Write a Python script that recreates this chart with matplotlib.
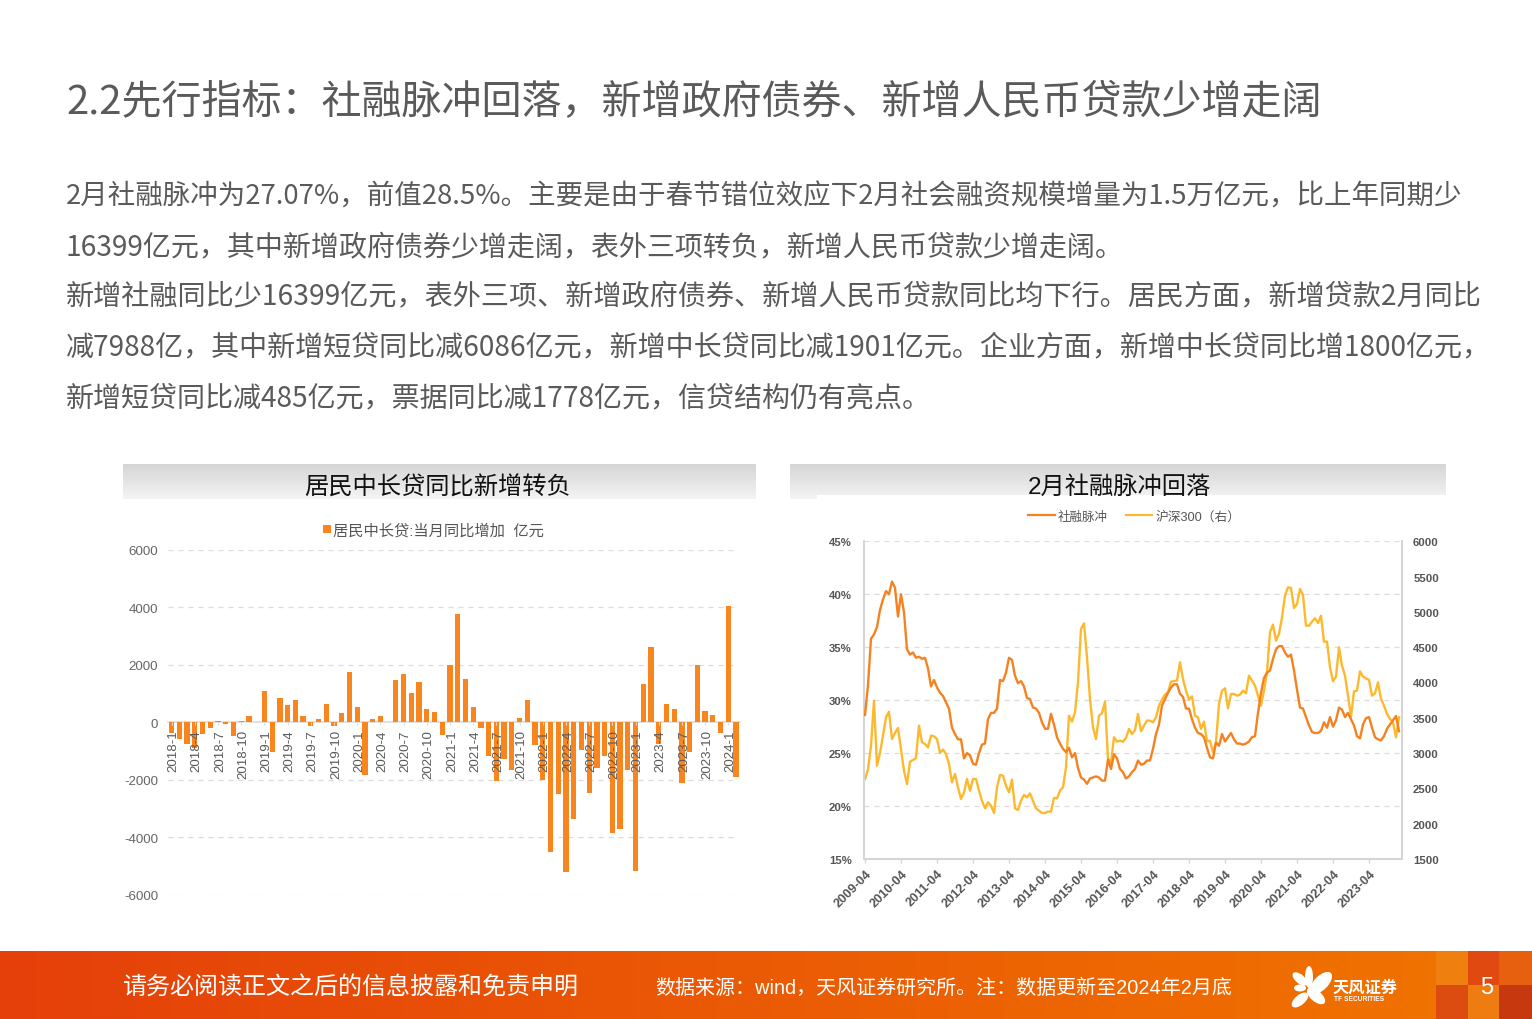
import numpy as np
import matplotlib
matplotlib.use("Agg")
import matplotlib.pyplot as plt
from matplotlib.patches import Ellipse, Rectangle
from matplotlib.ticker import FuncFormatter
from matplotlib.transforms import ScaledTranslation

CJK = ['Noto Sans CJK SC', 'DejaVu Sans']
plt.rcParams['font.family'] = ['Liberation Sans', 'Noto Sans CJK SC', 'DejaVu Sans']
plt.rcParams['axes.unicode_minus'] = False

title_text = "2.2先行指标：社融脉冲回落，新增政府债券、新增人民币贷款少增走阔"
body_lines = [
    "2月社融脉冲为27.07%，前值28.5%。主要是由于春节错位效应下2月社会融资规模增量为1.5万亿元，比上年同期少",
    "16399亿元，其中新增政府债券少增走阔，表外三项转负，新增人民币贷款少增走阔。",
    "新增社融同比少16399亿元，表外三项、新增政府债券、新增人民币贷款同比均下行。居民方面，新增贷款2月同比",
    "减7988亿，其中新增短贷同比减6086亿元，新增中长贷同比减1901亿元。企业方面，新增中长贷同比增1800亿元，",
    "新增短贷同比减485亿元，票据同比减1778亿元，信贷结构仍有亮点。",
]
left_title = "居民中长贷同比新增转负"
right_title = "2月社融脉冲回落"
bar_legend = "居民中长贷:当月同比增加  亿元"
line_names = ["社融脉冲", "沪深300（右）"]
footer_left = "请务必阅读正文之后的信息披露和免责申明"
footer_right = "数据来源：wind，天风证券研究所。注：数据更新至2024年2月底"

bar_months = [f"{y}-{m}" for y in range(2018, 2024) for m in range(1, 13)] + ["2024-1", "2024-2"]
bar_values = [
    -370, -600, -750, -890, -400, -200, 50, -60, -480, 50, 200, 0,
    1070, -1020, 830, 600, 760, 230, -140, 120, 640, -140, 310, 1750,
    530, -1840, 120, 230, 0, 1480, 1660, 1030, 1410, 460, 350, -430,
    1980, 3750, 1520, 530, -200, -1180, -2060, -1280, -1670, 160, 770, -800,
    -2000, -4530, -2500, -5220, -3350, -950, -2470, -1600, -1170, -3850, -3700, -1670,
    -5180, 1340, 2600, -750, 650, 470, -2130, -1030, 2000, 400, 240, -380,
    4030, -1900,
]
bar_yticks = [-6000, -4000, -2000, 0, 2000, 4000, 6000]

pulse = [
    28.6, 31.4, 35.8, 36.2, 36.9, 38.5, 39.5, 40.3, 40.0, 41.2, 40.6, 37.9,
    40.0, 38.3, 34.8, 34.3, 34.5, 34.0, 34.1, 33.9, 34.0, 33.0, 31.3, 31.9,
    31.2, 30.7, 30.4, 29.8, 29.2, 27.4, 26.8, 26.3, 26.3, 24.5, 25.0, 24.8,
    24.0, 23.9, 25.0, 25.8, 25.9, 28.2, 28.8, 28.8, 29.2, 31.9, 31.8, 32.6,
    34.0, 33.8, 32.3, 31.6, 31.8, 31.3, 30.2, 30.1, 29.3, 29.2, 28.8, 27.9,
    27.3, 27.3, 28.7, 27.7, 26.5, 25.9, 25.4, 25.1, 25.5, 24.6, 25.0, 23.6,
    22.7, 22.5, 22.1, 22.6, 22.7, 22.8, 22.7, 22.4, 22.4, 24.4, 23.5, 24.9,
    24.5, 23.5, 23.2, 22.6, 22.8, 23.2, 23.5, 24.3, 23.9, 24.0, 24.3, 24.3,
    25.4, 26.8, 27.7, 29.5, 30.1, 30.7, 31.2, 31.5, 31.5, 30.6, 30.3, 29.2,
    29.2, 28.2, 27.4, 26.9, 26.8, 26.5, 25.5, 24.6, 24.5, 26.0, 25.7, 26.8,
    26.1, 26.5, 26.9, 26.3, 25.9, 25.9, 25.8, 25.9, 26.1, 26.5, 26.6, 28.8,
    30.7, 32.1, 32.6, 32.8, 33.9, 34.8, 35.1, 35.1, 34.5, 34.1, 34.3, 32.8,
    31.0, 29.3, 29.2, 28.4, 27.6, 27.0, 26.9, 26.9, 27.1, 27.9, 27.4, 28.4,
    27.5, 28.1, 29.3, 29.1, 28.4, 28.8, 28.2, 27.6, 26.6, 26.4, 27.7, 28.3,
    28.4, 27.4, 26.5, 26.3, 26.2, 26.6, 27.3, 27.7, 28.1, 28.5, 27.07,
]
hs300 = [
    2633, 2766, 3105, 3743, 2822, 3002, 3247, 3507, 3587, 3200, 3285, 3356,
    3058, 2751, 2562, 2879, 2902, 2931, 3389, 3153, 3129, 3082, 3247, 3238,
    3200, 3002, 3049, 2987, 2846, 2586, 2704, 2515, 2350, 2444, 2633, 2468,
    2633, 2633, 2468, 2326, 2218, 2303, 2256, 2152, 2515, 2690, 2680, 2539,
    2444, 2624, 2218, 2194, 2326, 2407, 2373, 2430, 2326, 2218, 2185, 2152,
    2152, 2171, 2171, 2364, 2359, 2468, 2515, 2799, 3530, 3445, 3578, 4003,
    4758, 4838, 4357, 3767, 3365, 3200, 3530, 3564, 3729, 2917, 2869, 3224,
    3162, 3176, 3162, 3214, 3342, 3271, 3327, 3554, 3309, 3389, 3460, 3460,
    3436, 3507, 3672, 3757, 3828, 3861, 4012, 4021, 4026, 4286, 4050, 3885,
    3757, 3804, 3530, 3507, 3342, 3445, 3167, 3176, 3011, 3153, 3696, 3885,
    3918, 3634, 3837, 3837, 3814, 3828, 3885, 3847, 4097, 4026, 3955, 3814,
    3672, 3885, 4144, 4711, 4820, 4593, 4688, 4923, 5230, 5348, 5339, 5056,
    5112, 5325, 5240, 4805, 4805, 4862, 4909, 4843, 4947, 4579, 4579, 4215,
    4017, 4083, 4498, 4239, 4097, 3814, 3516, 3875, 3885, 4158, 4083, 4059,
    4036, 3814, 3847, 4003, 3767, 3672, 3554, 3483, 3436, 3224, 3507,
]
line_xticks = [f"{y}-04" for y in range(2009, 2024)]
pulse_yticks = [15, 20, 25, 30, 35, 40, 45]
hs_yticks = [1500, 2000, 2500, 3000, 3500, 4000, 4500, 5000, 5500, 6000]

W, H = 1532, 1020
fig = plt.figure(figsize=(W / 100, H / 100), dpi=100, facecolor='white')


def place(x0, y0, x1, y1, **kw):
    return fig.add_axes([x0 / W, 1 - y1 / H, (x1 - x0) / W, (y1 - y0) / H], **kw)


# page layer in pixel coordinates
page = fig.add_axes([0, 0, 1, 1], zorder=0)
page.set_xlim(0, W)
page.set_ylim(H, 0)
page.axis('off')

grad_v = np.linspace(0.835, 0.955, 64).reshape(-1, 1)
page.imshow(grad_v, extent=(123, 756, 500, 465), cmap='gray', vmin=0, vmax=1, aspect='auto', zorder=1)
page.imshow(grad_v, extent=(790, 1446, 500, 465), cmap='gray', vmin=0, vmax=1, aspect='auto', zorder=1)
page.add_patch(Rectangle((817, 496), 640, 10, fc='white', ec='none', zorder=2))

c0, c1 = np.array([229, 64, 10]) / 255, np.array([240, 114, 0]) / 255
t = np.linspace(0, 1, 256).reshape(1, -1, 1)
page.imshow(c0 + (c1 - c0) * t, extent=(0, 1436, 1020, 952), aspect='auto', zorder=1)
squares = [(1436, 952, 32, 34, '#ef8010'), (1468, 952, 31, 34, '#e04a10'), (1499, 952, 33, 34, '#e6600f'),
           (1436, 986, 32, 34, '#dc4c10'), (1468, 986, 31, 34, '#ee7c10'), (1499, 986, 33, 34, '#c8380f')]
for sx, sy, sw, sh, sc in squares:
    page.add_patch(Rectangle((sx, sy), sw, sh, fc=sc, ec='none', zorder=2))
page.set_xlim(0, W)
page.set_ylim(H, 0)

petals = [(1309, 978, 8, 22, 0), (1321, 984, 14, 28, 45), (1300, 980, 9, 18, -50),
          (1300, 989, 7, 12, 90), (1300, 1001, 10, 20, 50), (1316, 997, 11, 22, -50)]
for px, py, pw, ph, pa in petals:
    page.add_patch(Ellipse((px, py), pw, ph, angle=pa, fc='white', ec='none', zorder=3))

txt = dict(zorder=5, va='center')
page.text(66, 103, title_text, fontsize=28.83, color='#5a5a5a', family=CJK, weight='light', **txt)
line_sizes = [19.77, 20.2, 20.25, 20.2, 20.2]
for line_y, line, size in zip([197, 247.5, 297.5, 347.5, 398.5], body_lines, line_sizes):
    page.text(66, line_y, line, fontsize=size, color='#5a5a5a', family=CJK, weight='light', **txt)
page.text(438, 488, left_title, fontsize=17.5, color='#111111', ha='center', **txt)
page.text(1119, 488, right_title, fontsize=17.5, color='#111111', ha='center', **txt)

page.add_patch(Rectangle((323, 526), 8, 8, fc='#f9851f', ec='none', zorder=5))
page.text(333, 531, bar_legend, fontsize=11, color='#555555', **txt)
page.plot([1028, 1055], [515.5, 515.5], color='#f58220', lw=1.6, zorder=5)
page.text(1058, 517.5, line_names[0], fontsize=9, color='#555555', **txt)
page.plot([1126, 1152], [515.5, 515.5], color='#fdb92e', lw=1.6, zorder=5)
page.text(1156, 517.5, line_names[1], fontsize=9.2, color='#555555', **txt)

page.text(123, 988, footer_left, fontsize=17.3, color='white', **txt)
page.text(655, 988, footer_right, fontsize=14.4, color='white', family=['Liberation Sans', 'Noto Sans CJK SC'], **txt)
page.text(1333, 988, "天风证券", fontsize=11.7, color='white', weight='bold', **txt)
page.text(1334, 1000, "TF SECURITIES", fontsize=4.8, color='white', weight='bold', **txt)
page.text(1487, 988, "5", fontsize=17, color='white', ha='center', **txt)

# bar chart
ax = place(167.8, 550.7, 739.9, 895.7, zorder=2)
ax.patch.set_alpha(0)
x_bars = np.arange(len(bar_values))
ax.hlines([v for v in bar_yticks if v != 0], -0.5, len(bar_values) - 0.8,
          colors='#dcdcdc', linestyles=(0, (4, 4)), lw=0.9, zorder=0.5)
ax.bar(x_bars, bar_values, width=0.68, color='#f9851f', zorder=1)
ax.set_xlim(-0.5, len(bar_values) - 0.5)
ax.set_ylim(-6000, 6000)
for s in ['top', 'left', 'right']:
    ax.spines[s].set_visible(False)
ax.spines['bottom'].set_position(('data', 0))
ax.spines['bottom'].set_color('#dcdcdc')
ax.spines['bottom'].set_linewidth(1.2)
ax.spines['bottom'].set_zorder(0.6)
ax.set_yticks(bar_yticks)
ax.set_xticks(x_bars[::3])
ax.set_xticklabels(bar_months[::3], rotation=90, ha='center', va='top')
ax.set_axisbelow(False)
ax.tick_params(axis='x', length=2, width=0.8, color='#dcdcdc', labelsize=9.6, labelcolor='#5a5a5a', pad=3)
ax.tick_params(axis='y', length=0, labelsize=9.6, labelcolor='#666666', pad=7)
nudge = ScaledTranslation(2 / 100, 0, fig.dpi_scale_trans)
for label in ax.get_xticklabels():
    label.set_transform(label.get_transform() + nudge)

# line chart
ax2 = place(864.3, 542.3, 1402, 860, zorder=2)
ax2.patch.set_alpha(0)
months = np.arange(len(pulse))
ax2.set_xlim(-0.23, 179)
ax2.set_ylim(15, 45)
ax2.set_yticks(pulse_yticks)
ax2.yaxis.set_major_formatter(FuncFormatter(lambda v, _: f"{v:.0f}%"))
ax2.set_xticks(months[::12])
ax2.set_xticklabels(line_xticks, rotation=45, ha='right', rotation_mode='anchor')
ax2.grid(axis='y', color='#dcdcdc', ls=(0, (4, 4)), lw=0.9)
ax2.set_axisbelow(True)
ax2.tick_params(axis='x', length=3, width=1, color='#d5d5d5', labelsize=9.2, labelcolor='#555555', pad=3)
ax2.tick_params(axis='y', length=0, labelsize=8.2, labelcolor='#555555', pad=9)
for label in ax2.get_xticklabels() + ax2.get_yticklabels():
    label.set_fontweight('bold')
ax3 = ax2.twinx()
ax3.set_ylim(1500, 6000)
ax3.set_yticks(hs_yticks)
ax3.tick_params(axis='y', length=0, labelsize=8.2, labelcolor='#555555', pad=8)
for label in ax3.get_yticklabels():
    label.set_fontweight('bold')
for a in (ax2, ax3):
    a.spines['top'].set_visible(False)
    for s in ['left', 'right', 'bottom']:
        a.spines[s].set_color('#d5d5d5')
        a.spines[s].set_linewidth(1.3)
ax3.plot(months, hs300, color='#fdb92e', lw=1.7, zorder=2)
ax3.plot(months, np.array(pulse) * 150 - 750, color='#f58220', lw=1.7, zorder=3)

fig.savefig('out.png', dpi=100)
